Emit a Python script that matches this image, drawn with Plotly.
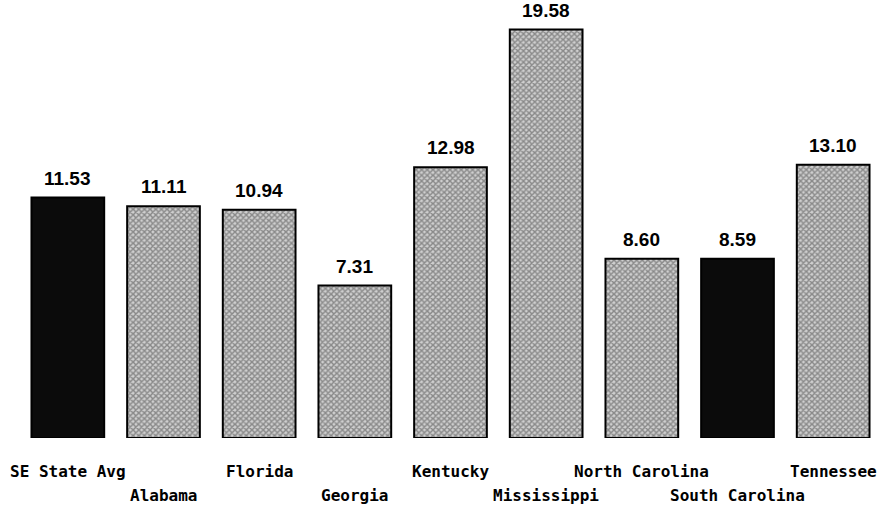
import plotly.graph_objects as go

# Rates by state, with the Southeast average first
categories = ["SE State Avg", "Alabama", "Florida", "Georgia", "Kentucky",
              "Mississippi", "North Carolina", "South Carolina", "Tennessee"]
values = [11.53, 11.11, 10.94, 7.31, 12.98, 19.58, 8.60, 8.59, 13.10]
highlighted = ["SE State Avg", "South Carolina"]

dark = [c in highlighted for c in categories]
fill = ["#0b0b0b" if d else "#cfcfcf" for d in dark]
pattern_shape = ["" if d else "x" for d in dark]

fig = go.Figure(go.Bar(
    x=categories,
    y=values,
    width=0.76,
    marker=dict(
        color=fill,
        line=dict(color="black", width=2),
        pattern=dict(shape=pattern_shape, fgcolor="black",
                     size=4, solidity=0.6, fillmode="overlay"),
    ),
    hoverinfo="skip",
))

# value labels above each bar
for c, v in zip(categories, values):
    fig.add_annotation(x=c, y=v, text=f"{v:.2f}", showarrow=False,
                       yanchor="bottom", yshift=7,
                       font=dict(family="Liberation Sans", size=19, color="black",
                                 weight="bold"))

# category names on two staggered rows
for i, c in enumerate(categories):
    fig.add_annotation(x=c, y=0, yref="paper", text=c, showarrow=False,
                       yanchor="top", yshift=-22 if i % 2 == 0 else -46,
                       font=dict(family="DejaVu Sans Mono", size=16, color="black",
                                 weight="bold"))

fig.update_layout(
    width=887, height=510,
    margin=dict(l=20, r=6, t=0, b=72),
    paper_bgcolor="white", plot_bgcolor="white",
    showlegend=False,
    xaxis=dict(range=[-0.5, len(categories) - 0.5], showticklabels=False,
               showgrid=False, zeroline=False, showline=False, ticks=""),
    yaxis=dict(range=[0, 21], visible=False),
)

fig.write_html("out.html")
